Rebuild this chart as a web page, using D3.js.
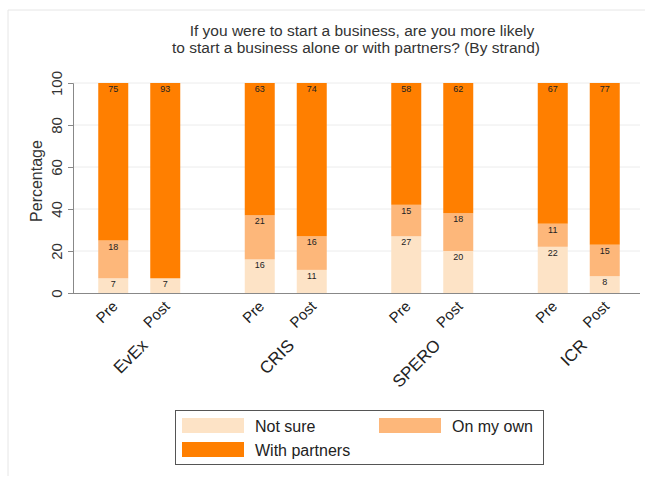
<!DOCTYPE html>
<html lang="en">
<head>
  <meta charset="UTF-8">
  <title>Start a business alone or with partners</title>
  <script type="text/javascript" src="https://d3js.org/d3.v7.min.js"></script>
  <style>
    body{ margin:0; background:#fff; }
    text{ font-family:"Liberation Sans", Arial, sans-serif; }
    .grid line{ stroke:#ececec; }
  </style>
</head>
<body>
  <svg></svg>
  <script type="text/javascript">

  var strands = ["EvEx", "CRIS", "SPERO", "ICR"],
    stages = ["Pre", "Post"],
    answers = ["Not sure", "On my own", "With partners"],
    notSure = [7, 7, 16, 11, 27, 20, 22, 8],
    onMyOwn = [18, 0, 21, 16, 15, 18, 11, 15],
    withPartners = [75, 93, 63, 74, 58, 62, 67, 77],
    yTicks = [0, 20, 40, 60, 80, 100],
    colors = ["#fde3c6", "#fdb77a", "#ff7f00"];

  var W = 653, H = 479,
    SVG = d3.select("svg").attr("width", W).attr("height", H);

  // one row per bar
  var rows = [];
  strands.forEach(function(s, i){
    stages.forEach(function(st, j){
      var k = i * 2 + j;
      rows.push({strand: s, stage: st, "Not sure": notSure[k], "On my own": onMyOwn[k], "With partners": withPartners[k]});
    });
  });
  var stacked = d3.stack().keys(answers)(rows);

  var x0 = d3.scaleBand().domain(strands).range([66, 652]),
    x1 = d3.scalePoint().domain(stages).range([-26, 26]),
    y = d3.scaleLinear().domain([0, 100]).range([293, 83]).clamp(true),
    BW = 30,
    color = d3.scaleOrdinal().domain(answers).range(colors);

  function cx(d){ return x0(d.strand) + x0.bandwidth() / 2 + x1(d.stage); }

  // faint outer frame
  SVG.append("path").attr("d", "M8,476 L8,10 L645,10")
    .attr("fill", "none").attr("stroke", "#e6e6e6");

  // title
  var title = SVG.append("text").attr("text-anchor", "middle")
    .attr("fill", "#333").style("font-size", "15.5px");
  title.append("tspan").attr("x", 362).attr("y", 36).text("If you were to start a business, are you more likely");
  title.append("tspan").attr("x", 356).attr("y", 53).text("to start a business alone or with partners? (By strand)");

  // grid
  SVG.append("g").attr("class", "grid").selectAll("line")
    .data(yTicks.slice(1)).enter().append("line")
    .attr("x1", 73).attr("x2", 640)
    .attr("y1", function(d){ return y(d); }).attr("y2", function(d){ return y(d); });

  // bars
  var layer = SVG.append("g").selectAll("g").data(stacked).enter().append("g")
    .attr("fill", function(d){ return color(d.key); });
  layer.selectAll("rect").data(function(d){ return d; }).enter().append("rect")
    .attr("x", function(d){ return cx(d.data) - BW / 2; })
    .attr("width", BW)
    .attr("y", function(d){ return y(d[1]); })
    .attr("height", function(d){ return y(d[0]) - y(d[1]); });

  // value labels at top of each segment
  stacked.forEach(function(s){
    SVG.append("g").selectAll("text").data(s.filter(function(d){ return d[1] - d[0] > 0; }))
      .enter().append("text")
      .attr("x", function(d){ return cx(d.data); })
      .attr("y", function(d){ return y(d[1]) + 9; })
      .attr("text-anchor", "middle")
      .attr("fill", "#222")
      .style("font-size", "9px")
      .text(function(d){ return d[1] - d[0]; });
  });

  // y axis
  var yAxis = SVG.append("g").attr("transform", "translate(73,0)")
    .call(d3.axisLeft(y).tickValues(yTicks).tickSize(5).tickPadding(3));
  yAxis.select(".domain").attr("stroke", "#888");
  yAxis.selectAll(".tick line").attr("stroke", "#888");
  yAxis.selectAll(".tick text")
    .attr("transform", "rotate(-90)").attr("x", 0).attr("y", -11).attr("dy", 0)
    .attr("text-anchor", "middle")
    .attr("fill", "#333").style("font-size", "15px");

  SVG.append("text").attr("transform", "translate(42,181) rotate(-90)")
    .attr("text-anchor", "middle").attr("fill", "#333").style("font-size", "16px")
    .text("Percentage");

  // x axis line
  SVG.append("line").attr("x1", 73).attr("x2", 640).attr("y1", 293.5).attr("y2", 293.5)
    .attr("stroke", "#888");

  // stage labels
  SVG.append("g").selectAll("text").data(rows).enter().append("text")
    .attr("transform", function(d){ return "translate(" + (cx(d) - 2) + ",300) rotate(-45)"; })
    .attr("text-anchor", "end").attr("dy", "0.7em")
    .attr("fill", "#222").style("font-size", "15px")
    .text(function(d){ return d.stage; });

  // strand labels
  SVG.append("g").selectAll("text").data(strands).enter().append("text")
    .attr("transform", function(d){ return "translate(" + (x0(d) + x0.bandwidth() / 2 + 1) + ",338) rotate(-45)"; })
    .attr("text-anchor", "end").attr("dy", "0.7em")
    .attr("fill", "#222").style("font-size", "17px")
    .text(function(d){ return d; });

  // legend
  var lg = SVG.append("g");
  lg.append("rect").attr("x", 175.5).attr("y", 410.5).attr("width", 368).attr("height", 54)
    .attr("fill", "#fff").attr("stroke", "#555");
  var lpos = [[182, 418], [379, 418], [182, 442]];
  answers.forEach(function(a, i){
    lg.append("rect").attr("x", lpos[i][0]).attr("y", lpos[i][1]).attr("width", 62).attr("height", 15)
      .attr("fill", color(a));
    lg.append("text").attr("x", lpos[i][0] + 73).attr("y", lpos[i][1] + 14)
      .attr("fill", "#222").style("font-size", "16px").text(a);
  });

  </script>
</body>
</html>
